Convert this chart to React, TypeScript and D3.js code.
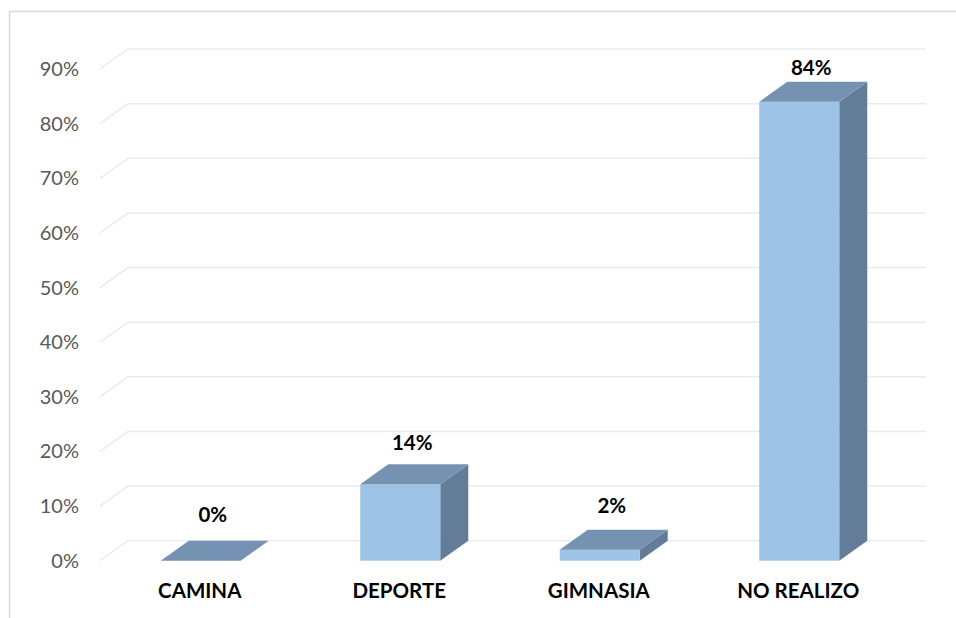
import React from "react";
import { scaleBand, scaleLinear, range } from "d3";

const categories = ["CAMINA", "DEPORTE", "GIMNASIA", "NO REALIZO"];
const values = [0, 0.14, 0.02, 0.84];
const valueLabels = ["0%", "14%", "2%", "84%"];
const tickValues = range(0, 10).map((d) => d / 10);

const width = 956;
const height = 618;
const depthX = 28;
const depthY = -20;
const font = "Lato, 'Open Sans', sans-serif";

export const App = () => {
  const xScale = scaleBand<string>().domain(categories).range([100, 898]);
  const yScale = scaleLinear().domain([0, 0.9]).range([560.7, 69]);
  const step = xScale.step();
  const barWidth = 80;

  return (
    <svg
      width={width}
      height={height}
      style={{ position: "absolute", left: 0, top: 0, background: "#fff" }}
    >
      <rect x={9.5} y={11.5} width={width} height={height} fill="#fff" stroke="#D9D9D9" strokeWidth={1.5} />
      {/* back wall gridlines with the little floor diagonal */}
      {tickValues.map((t) => {
        const y = yScale(t);
        return (
          <g key={t}>
            <polyline
              points={`100,${y} ${100 + depthX},${y + depthY} 926,${y + depthY}`}
              fill="none"
              stroke="#EBEBEB"
              strokeWidth={1.5}
            />
            <text
              x={79}
              y={y + 7}
              textAnchor="end"
              fontFamily={font}
              fontSize={20}
              fill="#595959"
            >
              {Math.round(t * 100)}%
            </text>
          </g>
        );
      })}
      {categories.map((c, i) => {
        const x0 = (xScale(c) as number) + (step - barWidth) / 2 + 1;
        const x1 = x0 + barWidth;
        const yb = yScale(0);
        const yt = yScale(values[i]);
        // excel's 3d projection pushes labels of taller bars a bit closer
        const labelY = yt - 46 + 13 * Math.sqrt(values[i]) + 7;
        return (
          <g key={c}>
            <polygon
              points={`${x1},${yt} ${x1 + depthX},${yt + depthY} ${x1 + depthX},${yb + depthY} ${x1},${yb}`}
              fill="#637C98"
            />
            <rect x={x0} y={yt} width={barWidth} height={yb - yt} fill="#9DC3E6" />
            <polygon
              points={`${x0},${yt} ${x0 + depthX},${yt + depthY} ${x1 + depthX},${yt + depthY} ${x1},${yt}`}
              fill="#7692B2"
            />
            <text
              x={(x0 + x1) / 2 + depthX / 2 - 2}
              y={labelY}
              textAnchor="middle"
              fontFamily={font}
              fontWeight="bold"
              fontSize={20.5}
              fill="#000"
            >
              {valueLabels[i]}
            </text>
            <text
              x={(xScale(c) as number) + step / 2}
              y={598}
              textAnchor="middle"
              fontFamily={font}
              fontWeight="bold"
              fontSize={20.5}
              fill="#000"
            >
              {c}
            </text>
          </g>
        );
      })}
    </svg>
  );
};

export default App;
